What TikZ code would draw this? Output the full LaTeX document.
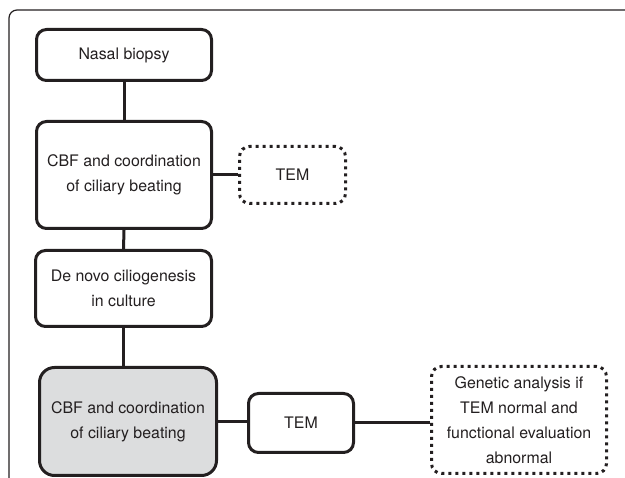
\documentclass[tikz,border=0pt]{standalone}
\usepackage{fontspec}
\setmainfont{TeX Gyre Heros}
\definecolor{inkgrey}{RGB}{35,31,32}
\definecolor{boxgrey}{RGB}{220,221,222}
\begin{document}
\begin{tikzpicture}[x=1pt,y=1pt,yscale=-1,xscale=1,
  stepbox/.style={draw=inkgrey, text=inkgrey, line width=3pt, rounded corners=10pt,
    align=center, inner sep=0pt, font=\fontsize{15.9}{25}\selectfont},
  dotbox/.style={stepbox, dash pattern=on 3pt off 4pt},
  link/.style={draw=inkgrey, line width=3pt}]
\useasboundingbox (0,0) rectangle (625,478);
\clip (0,0) rectangle (625,478);
% frame
\draw [inkgrey, line width=1.2pt, rounded corners=8pt] (9,500) -- (9,10) -- (650,10) ;
% boxes
\node [stepbox, minimum width=175, minimum height=51] (biopsy) at (124,55) {Nasal biopsy};
\node [stepbox, minimum width=175, minimum height=107] (cbfa) at (124,175) {CBF and coordination\\of ciliary beating};
\node [dotbox, minimum width=106, minimum height=57] (tema) at (292.5,175) {TEM};
\node [stepbox, minimum width=176, minimum height=76] (denovo) at (123.5,288.5) {De novo ciliogenesis\\in culture};
\node [stepbox, fill=boxgrey, rounded corners=15pt, minimum width=177, minimum height=108] (cbfb) at (128,421.5) {CBF and coordination\\of ciliary beating};
\node [stepbox, minimum width=105, minimum height=59] (temb) at (301,423) {TEM};
\node [dotbox, minimum width=175, minimum height=107] (genetic) at (519,420) {Genetic analysis if\\TEM normal and\\functional evaluation\\abnormal};
% connectors
\draw [link] (biopsy.south) -- (cbfa.north) ;
\draw [link] (cbfa.south) -- (denovo.north) ;
\draw [link] (denovo.south) -- (denovo.south |- cbfb.north) ;
\draw [link] (cbfa.east) -- (tema.west) ;
\draw [link] (cbfb.east) -- (cbfb.east -| temb.west) ;
\draw [link] (temb.east) -- (temb.east -| genetic.west) ;
\end{tikzpicture}
\end{document}
